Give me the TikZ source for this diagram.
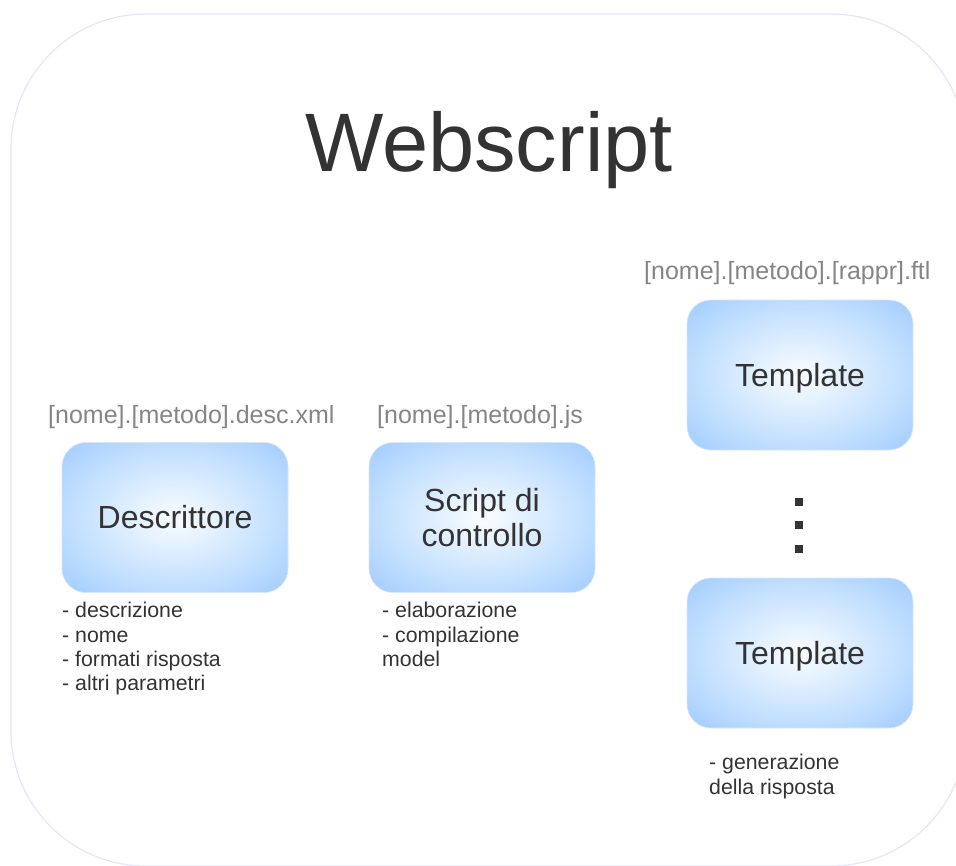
\documentclass[tikz,border=0pt]{standalone}
\usepackage{fontspec}
\setmainfont{Liberation Sans}
\usepackage{xcolor}
\usepackage{tikz}
\definecolor{ink}{HTML}{333333}
\definecolor{filegray}{HTML}{858585}
\definecolor{framelilac}{HTML}{E4E4FF}
\definecolor{glowin}{HTML}{F5FAFF}
\definecolor{glowmid}{HTML}{BCDCFF}
\definecolor{glowout}{HTML}{9FCAFF}
\definecolor{glowrim}{HTML}{D6E6FF}
\pgfdeclareradialshading{glow}{\pgfpoint{0bp}{0bp}}{%
	color(0bp)=(glowin); color(2bp)=(glowin); color(25bp)=(glowmid); color(36bp)=(glowout); color(50bp)=(glowout)}
\tikzset{
	part/.style={
		rectangle,
		rounded corners=24pt,
		minimum width=226pt,
		minimum height=150pt,
		shading=glow,
		draw=glowrim,
		line width=.6pt,
		text=ink,
		font=\fontsize{32}{35}\selectfont,
		align=center,
		inner sep=0,
	},
	filename/.style={
		text=filegray,
		font=\fontsize{25}{30}\selectfont,
		anchor=base west,
		inner sep=0,
	},
	notes/.style={
		text=ink,
		font=\fontsize{21.3}{24.4}\selectfont,
		anchor=north west,
		align=left,
		inner sep=0,
	},
	dot/.style={
		rectangle,
		minimum size=8pt,
		fill=ink,
		inner sep=0,
		outer sep=0,
	},
}

\begin{document}
\begin{tikzpicture}[x=1pt,y=-1pt]
	\clip (0,0) rectangle (956,865);
	\draw[framelilac, line width=1.2pt, rounded corners=135pt] (11,14) rectangle (966,866);

	\node[text=ink, font=\fontsize{83}{90}\selectfont, anchor=base, inner sep=0] (title) at (489,171) {Webscript};

	\node[part] (desc) at (175,517.5) {Descrittore};
	\node[part] (ctrl) at (482,517.5) {Script di\\controllo};
	\node[part, text depth=0pt] (tmplA) at (800,375) {Template};
	\node[part, text depth=0pt] (tmplB) at (800,653) {Template};

	\node[filename] (descfile) at (48,423) {[nome].[metodo].desc.xml};
	\node[filename] (ctrlfile) at (377,423) {[nome].[metodo].js};
	\node[filename] (tmplfile) at (644,279) {[nome].[metodo].[rappr].ftl};

	\foreach \i/\y in {1/502,2/524.5,3/548.5}
		\node[dot] (dot\i) at (799,\y) {};

	\node[notes] (descnotes) at (62,602) {- descrizione\\- nome\\- formati risposta\\- altri parametri};
	\node[notes] (ctrlnotes) at (382,602) {- elaborazione\\- compilazione\\model};
	\node[notes] (tmplnotes) at (709,754) {- generazione\\della risposta};
\end{tikzpicture}
\end{document}
